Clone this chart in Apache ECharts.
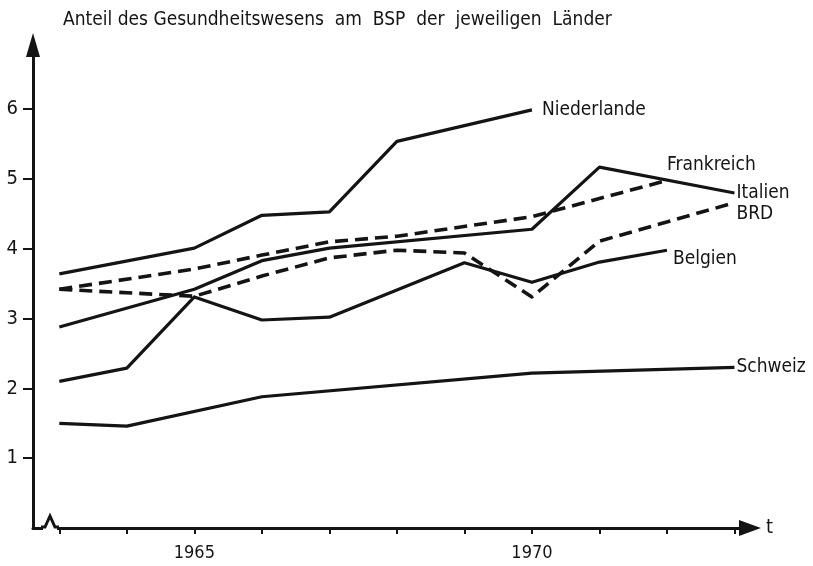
<!DOCTYPE html>
<html>
<head>
<meta charset="utf-8">
<script src="https://cdn.jsdelivr.net/npm/echarts@6/dist/echarts.min.js"></script>
<style>
  html, body { margin: 0; padding: 0; background: #fff; }
  #chart { width: 813px; height: 566px; }
</style>
</head>
<body>
<div id="chart"></div>
<script>
// Health-care share of GNP (in %), 1963–1973; null = no vertex in that year
const years = [1963, 1964, 1965, 1966, 1967, 1968, 1969, 1970, 1971, 1972, 1973];
const niederlande = [3.64, null, 4.01, 4.48, 4.53, 5.54, null, 5.99, null, null, null];
const frankreich  = [3.42, null, 3.71, 3.91, 4.10, 4.18, null, 4.46, null, 4.98, null];
const italien     = [2.88, null, 3.42, 3.83, 4.01, null, null, 4.28, 5.17, null, 4.80];
const brd         = [3.42, null, 3.32, 3.61, 3.87, 3.98, 3.94, 3.31, 4.11, null, 4.66];
const belgien     = [2.10, 2.29, 3.31, 2.98, 3.02, null, 3.80, 3.52, 3.81, 3.98, null];
const schweiz     = [1.50, 1.46, null, 1.88, null, null, null, 2.22, null, null, 2.30];

const xLabelYears = [1965, 1970];
const yTickValues = [1, 2, 3, 4, 5, 6];
const titleText = 'Anteil des Gesundheitswesens  am  BSP  der  jeweiligen  Länder';

const INK = '#141414';
const FONT = "'DejaVu Sans Condensed', 'DejaVu Sans', sans-serif";

function toPairs(values) {
  return years.map((y, i) => [y, values[i]]).filter(p => p[1] !== null);
}

function lineSeries(name, values, dashed, offset) {
  return {
    type: 'line',
    name: name,
    data: toPairs(values),
    symbol: 'none',
    silent: true,
    lineStyle: {
      color: INK,
      width: dashed ? 3.6 : 3.2,
      type: dashed ? [13, 7] : 'solid',
      cap: 'butt',
      join: 'round'
    },
    endLabel: {
      show: true,
      formatter: name,
      color: INK,
      fontFamily: FONT,
      fontSize: 19,
      distance: 0,
      align: 'left',
      verticalAlign: 'middle',
      offset: offset
    }
  };
}

const chart = echarts.init(document.getElementById('chart'), null, { renderer: 'canvas' });

chart.setOption({
  animation: false,
  backgroundColor: '#fff',
  textStyle: { fontFamily: FONT },
  title: {
    text: titleText,
    left: 58,
    top: 6,
    textStyle: { fontFamily: FONT, fontSize: 19, fontWeight: 'normal', color: INK }
  },
  grid: { left: 33, right: 63, top: 45, bottom: 38, containLabel: false },
  xAxis: {
    type: 'value',
    min: 1962.61,
    max: 1973.23,
    name: 't',
    nameLocation: 'end',
    nameGap: 16,
    nameTextStyle: { fontFamily: FONT, fontSize: 20, color: INK, verticalAlign: 'middle' },
    axisLine: {
      show: true,
      onZero: false,
      symbol: ['none', 'triangle'],
      symbolSize: [16, 22],
      lineStyle: { color: INK, width: 3 }
    },
    axisTick: {
      show: true,
      inside: false,
      length: 6,
      customValues: years,
      lineStyle: { color: INK, width: 2 }
    },
    axisLabel: {
      customValues: xLabelYears,
      formatter: v => String(v),
      margin: 16,
      fontFamily: FONT,
      fontSize: 18,
      color: INK
    },
    splitLine: { show: false }
  },
  yAxis: {
    type: 'value',
    min: 0,
    max: 6.92,
    axisLine: {
      show: true,
      onZero: false,
      symbol: ['none', 'triangle'],
      symbolSize: [14, 24],
      lineStyle: { color: INK, width: 3 }
    },
    axisTick: {
      show: true,
      inside: false,
      length: 10,
      customValues: yTickValues,
      lineStyle: { color: INK, width: 2 }
    },
    axisLabel: {
      customValues: yTickValues,
      formatter: v => String(v),
      margin: 15,
      fontFamily: FONT,
      fontSize: 20,
      color: INK
    },
    splitLine: { show: false }
  },
  // axis-break notch on the time axis
  graphic: [
    { type: 'rect', shape: { x: 43, y: 524, width: 14, height: 7 }, style: { fill: '#fff' }, z: 100 },
    { type: 'polyline', shape: { points: [[41, 527], [45, 527], [50, 516], [55, 527], [59, 527]] },
      style: { stroke: INK, lineWidth: 3, fill: null, lineJoin: 'miter' }, z: 101 }
  ],
  series: [
    lineSeries('Niederlande', niederlande, false, [10, 0]),
    lineSeries('Frankreich', frankreich, true, [0, -15]),
    lineSeries('Italien', italien, false, [2, 0]),
    lineSeries('BRD', brd, true, [2, 11]),
    lineSeries('Belgien', belgien, false, [6, 9]),
    lineSeries('Schweiz', schweiz, false, [2, 0])
  ]
});
</script>
</body>
</html>
